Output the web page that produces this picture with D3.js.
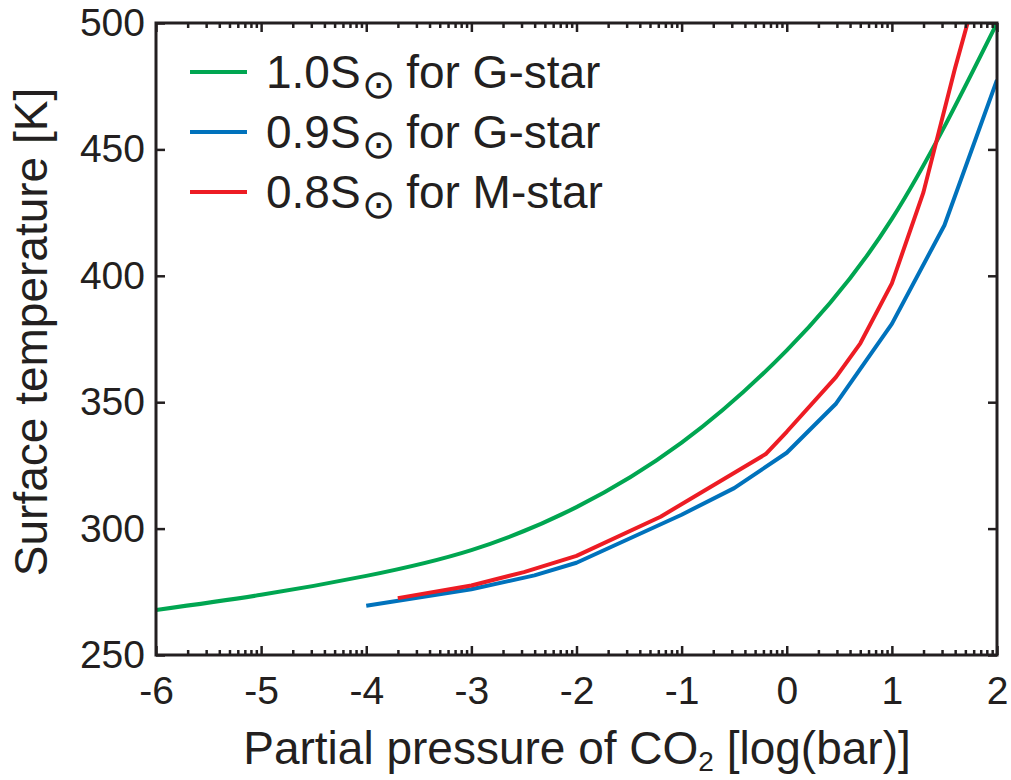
<!DOCTYPE html>
<html>
<head>
<meta charset="utf-8">
<script src="https://cdn.jsdelivr.net/npm/d3@7"></script>
<style>
  html, body { margin: 0; padding: 0; background: #fff; }
  svg { display: block; font-family: "Liberation Sans", Arial, Helvetica, sans-serif; }
  .axis text { font-size: 39px; fill: #231f20; }
  .axis line { stroke: #231f20; stroke-width: 2.5; }
</style>
</head>
<body>
<svg id="chart" width="1011" height="780"></svg>
<script>
// --- data ---
const xTicks = [-6, -5, -4, -3, -2, -1, 0, 1, 2];
const yTicks = [250, 300, 350, 400, 450, 500];

// 1.0 S_sun, G-star (smooth curve)
const greenX = [-6, -5, -4, -3, -2, -1, 0, 1, 2];
const greenT = [267.8, 273.8, 281.3, 291.5, 308.5, 334.0, 370.5, 422.5, 500.0];

// 0.9 S_sun, G-star
const blueX = [-4.0, -3.0, -2.4, -2.0, -1.5, -1.0, -0.5, 0.0, 0.47, 1.0, 1.5, 2.0];
const blueT = [269.5, 276.0, 281.5, 286.5, 296.0, 305.5, 316.0, 330.0, 349.5, 381.0, 420.0, 477.5];

// 0.8 S_sun, M-star
const redX = [-3.7, -3.0, -2.5, -2.0, -1.2, -0.2, 0.0, 0.47, 0.7, 1.0, 1.3, 1.6, 1.8];
const redT = [272.5, 277.5, 282.8, 289.2, 304.7, 329.5, 338.3, 360.0, 373.3, 397.0, 433.0, 482.0, 512.0];

const seriesNames = ["1.0S", "0.9S", "0.8S"];
const seriesStars = ["for G-star", "for G-star", "for M-star"];
const seriesColors = ["#00a651", "#0072bc", "#ed1c24"];

// --- layout ---
const svg = d3.select('#chart');
const mLeft = 156, mRight = 997, mTop = 23, mBottom = 655;

const x = d3.scaleLinear().domain([-6, 2]).range([mLeft, mRight]);
const y = d3.scaleLinear().domain([250, 500]).range([mBottom, mTop]);

// minor ticks like a log axis inside each unit
const minorTicks = [];
xTicks.slice(0, -1).forEach(t => {
    for (let k = 2; k <= 9; k++) minorTicks.push(t + Math.log10(k));
});

svg.append('defs').append('clipPath').attr('id', 'plotClip')
    .append('rect')
    .attr('x', mLeft).attr('y', mTop)
    .attr('width', mRight - mLeft).attr('height', mBottom - mTop);

// curves
const series = [
    { xs: greenX, ts: greenT, curve: d3.curveNatural },
    { xs: blueX, ts: blueT, curve: d3.curveLinear },
    { xs: redX, ts: redT, curve: d3.curveLinear }
];

const line = d3.line().x(d => x(d[0])).y(d => y(d[1]));

const curves = svg.append('g').attr('clip-path', 'url(#plotClip)');
series.forEach((s, i) => {
    const pts = s.xs.map((v, j) => [v, s.ts[j]]);
    curves.append('path')
        .datum(pts)
        .attr('fill', 'none')
        .attr('stroke', seriesColors[i])
        .attr('stroke-width', 4)
        .attr('stroke-linejoin', 'round')
        .attr('d', line.curve(s.curve));
});

// axes (ticks point inward)
const xAxis = svg.append('g').attr('class', 'axis')
    .attr('transform', `translate(0,${mBottom})`)
    .call(d3.axisBottom(x).tickValues(xTicks).tickSize(-9).tickPadding(21).tickFormat(d => String(d)));
xAxis.select('.domain').remove();
xAxis.selectAll('text').attr('dy', '0.71em');

svg.append('g').attr('class', 'axis')
    .attr('transform', `translate(0,${mBottom})`)
    .call(d3.axisBottom(x).tickValues(minorTicks).tickSize(-5).tickFormat(''))
    .select('.domain').remove();

svg.append('g').attr('class', 'axis')
    .attr('transform', `translate(0,${mTop})`)
    .call(d3.axisTop(x).tickValues(xTicks).tickSize(-9).tickFormat(''))
    .select('.domain').remove();

svg.append('g').attr('class', 'axis')
    .attr('transform', `translate(0,${mTop})`)
    .call(d3.axisTop(x).tickValues(minorTicks).tickSize(-5).tickFormat(''))
    .select('.domain').remove();

const yAxis = svg.append('g').attr('class', 'axis')
    .attr('transform', `translate(${mLeft},0)`)
    .call(d3.axisLeft(y).tickValues(yTicks).tickSize(-9).tickPadding(11));
yAxis.select('.domain').remove();

svg.append('g').attr('class', 'axis')
    .attr('transform', `translate(${mRight},0)`)
    .call(d3.axisRight(y).tickValues(yTicks).tickSize(-9).tickFormat(''))
    .select('.domain').remove();

// frame
svg.append('rect')
    .attr('x', mLeft).attr('y', mTop)
    .attr('width', mRight - mLeft).attr('height', mBottom - mTop)
    .attr('fill', 'none')
    .attr('stroke', '#231f20')
    .attr('stroke-width', 3);

// axis titles
const xTitle = svg.append('text')
    .attr('x', 577)
    .attr('y', 764)
    .attr('text-anchor', 'middle')
    .attr('font-size', 46)
    .attr('fill', '#231f20');
xTitle.append('tspan').text('Partial pressure of CO');
xTitle.append('tspan').attr('font-size', 28).attr('dy', 7).text('2');
xTitle.append('tspan').attr('dy', -7).text(' [log(bar)]');

svg.append('text')
    .attr('transform', `translate(47,332) rotate(-90)`)
    .attr('text-anchor', 'middle')
    .attr('font-size', 46)
    .attr('fill', '#231f20')
    .text('Surface temperature [K]');

// legend
const legend = svg.append('g');
seriesNames.forEach((name, i) => {
    const base = 88 + i * 60;
    legend.append('line')
        .attr('x1', 190).attr('x2', 247)
        .attr('y1', base - 16).attr('y2', base - 16)
        .attr('stroke', seriesColors[i])
        .attr('stroke-width', 4);
    const t = legend.append('text')
        .attr('x', 266).attr('y', base)
        .attr('font-size', 46)
        .attr('fill', '#231f20');
    t.append('tspan').text(name);
    t.append('tspan')
        .attr('font-family', '"DejaVu Sans", sans-serif')
        .attr('font-size', 40)
        .attr('dx', 1)
        .attr('dy', 10)
        .text('\u2299');
    t.append('tspan').attr('dy', -10).attr('dx', 11).text(seriesStars[i]);
});
</script>
</body>
</html>
